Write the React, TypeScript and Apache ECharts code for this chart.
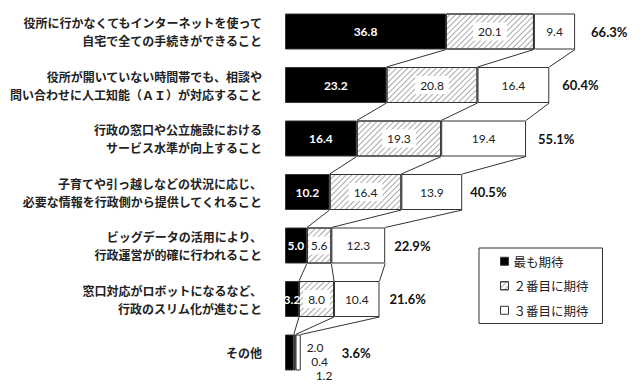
import React, { useEffect, useRef } from "react";
import * as echarts from "echarts";

const categories = [
  "役所に行かなくてもインターネットを使って\n自宅で全ての手続きができること",
  "役所が開いていない時間帯でも、相談や\n問い合わせに人工知能（ＡＩ）が対応すること",
  "行政の窓口や公立施設における\nサービス水準が向上すること",
  "子育てや引っ越しなどの状況に応じ、\n必要な情報を行政側から提供してくれること",
  "ビッグデータの活用により、\n行政運営が的確に行われること",
  "窓口対応がロボットになるなど、\n行政のスリム化が進むこと",
  "その他",
];
const seriesNames = ["最も期待", "２番目に期待", "３番目に期待"];
const first = [36.8, 23.2, 16.4, 10.2, 5.0, 3.2, 2.0];
const second = [20.1, 20.8, 19.3, 16.4, 5.6, 8.0, 0.4];
const third = [9.4, 16.4, 19.4, 13.9, 12.3, 10.4, 1.2];
const totals = [66.3, 60.4, 55.1, 40.5, 22.9, 21.6, 3.6];

// styling constants
const labelShiftUp = [7, 6, 5, 3, 3, 1, 0];
const totalLabelGap = [16, 13, 12, 8, 9, 10, 41];
const BAR_W = 36;
const NUM_FONT = "Lato, 'Liberation Sans', sans-serif";
const JP_FONT = "'Noto Sans CJK JP', sans-serif";

export default function App() {
  const ref = useRef<HTMLDivElement>(null);
  useEffect(() => {
    document.body.style.margin = "0";
    const chart = echarts.init(ref.current!, null, { renderer: "svg" });
    const last = categories.length - 1;
    const cum = categories.map((_, i) => [
      first[i],
      first[i] + second[i],
      first[i] + second[i] + third[i],
    ]);

    const barBase = {
      type: "bar",
      stack: "s",
      barWidth: BAR_W,
    };

    const option: any = {
      animation: false,
      grid: { left: 285, top: 4.75, width: 350, height: 374.5, containLabel: false },
      xAxis: { type: "value", min: 0, max: 80, show: false },
      yAxis: {
        type: "category",
        inverse: true,
        data: categories.map((c, i) => ({
          value: c,
          textStyle: { padding: [0, 0, labelShiftUp[i] * 2, 0] },
        })),
        axisLine: { show: false },
        axisTick: { show: false },
        axisLabel: {
          fontSize: 12,
          fontWeight: "bold",
          lineHeight: 18,
          margin: 23,
          color: "#222",
          fontFamily: JP_FONT,
          align: "right",
        },
      },
      legend: {
        data: seriesNames,
        orient: "vertical",
        left: 479,
        top: 248,
        borderColor: "#333",
        borderWidth: 1,
        padding: [7, 14, 7, 21],
        itemGap: 12,
        itemWidth: 8,
        itemHeight: 8,
        icon: "rect",
        itemStyle: { borderColor: "#333", borderWidth: 1 },
        textStyle: { fontSize: 12.5, color: "#222", fontFamily: JP_FONT },
      },
      series: [
        {
          ...barBase,
          name: seriesNames[0],
          itemStyle: { color: "#000", borderColor: "#333", borderWidth: 1 },
          label: {
            show: true,
            position: "inside",
            color: "#fff",
            fontWeight: "bold",
            fontSize: 12,
            fontFamily: NUM_FONT,
            formatter: (p: any) => p.value.toFixed(1),
          },
          data: first.map((v, i) =>
            i === last
              ? {
                  value: v,
                  label: {
                    position: [30, 12.7],
                    align: "center",
                    verticalAlign: "middle",
                    color: "#222",
                    fontWeight: "normal",
                  },
                }
              : v
          ),
        },
        {
          ...barBase,
          name: seriesNames[1],
          itemStyle: {
            color: "#fff",
            borderColor: "#333",
            borderWidth: 1,
            decal: {
              symbol: "rect",
              symbolSize: 1,
              dashArrayX: [[1, 0]],
              dashArrayY: [1, 3],
              rotation: -Math.PI / 4,
              color: "#a8a8a8",
            },
          },
          label: {
            show: true,
            position: "inside",
            color: "#222",
            fontSize: 12,
            fontFamily: NUM_FONT,
            backgroundColor: "#fff",
            padding: [3, 5],
            formatter: (p: any) => p.value.toFixed(1),
          },
          data: second.map((v, i) =>
            i === last
              ? {
                  value: v,
                  label: {
                    position: [25.8, 27],
                    align: "center",
                    verticalAlign: "middle",
                    padding: 0,
                  },
                }
              : i === 4
              ? { value: v, label: { padding: [3, 2] } }
              : v
          ),
        },
        {
          ...barBase,
          name: seriesNames[2],
          itemStyle: { color: "#fff", borderColor: "#333", borderWidth: 1 },
          label: {
            show: true,
            position: "inside",
            color: "#222",
            fontSize: 12,
            fontFamily: NUM_FONT,
            formatter: (p: any) => p.value.toFixed(1),
          },
          data: third.map((v, i) =>
            i === last
              ? {
                  value: v,
                  label: {
                    position: [28.5, 41],
                    align: "center",
                    verticalAlign: "middle",
                  },
                }
              : v
          ),
        },
        {
          type: "custom",
          name: "connectors",
          clip: false,
          silent: true,
          z: 5,
          data: categories.map((_, i) => [totals[i], i]),
          encode: { x: 0, y: 1 },
          renderItem: (params: any, api: any) => {
            const i = params.dataIndex;
            const children: any[] = [];
            const end = api.coord([cum[i][2], i]);
            children.push({
              type: "text",
              x: end[0] + totalLabelGap[i],
              y: end[1],
              style: {
                text: totals[i].toFixed(1) + "%",
                fontSize: 13,
                fontWeight: "bold",
                fontFamily: NUM_FONT,
                fill: "#111",
                align: "left",
                verticalAlign: "middle",
              },
            });
            if (i < last) {
              for (let k = 0; k < 3; k++) {
                const a = api.coord([cum[i][k], i]);
                const b = api.coord([cum[i + 1][k], i + 1]);
                children.push({
                  type: "line",
                  shape: {
                    x1: a[0],
                    y1: a[1] + BAR_W / 2,
                    x2: b[0],
                    y2: b[1] - BAR_W / 2,
                  },
                  style: { stroke: "#333", lineWidth: 1 },
                });
              }
            }
            return { type: "group", children };
          },
        },
      ],
    };
    chart.setOption(option);
    return () => chart.dispose();
  }, []);
  return (
    <div
      ref={ref}
      style={{ position: "absolute", left: 0, top: 0, width: 644, height: 388, background: "#fff" }}
    />
  );
}
